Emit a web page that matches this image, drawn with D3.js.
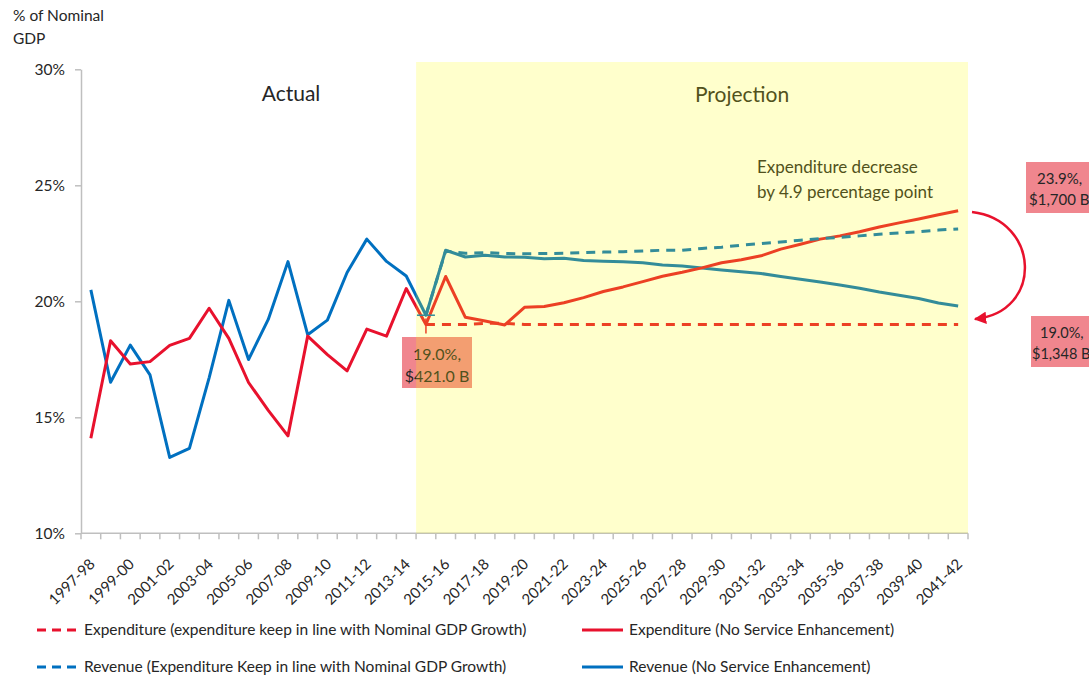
<!DOCTYPE html>
<html>
<head>
<meta charset="utf-8">
<script src="https://cdn.jsdelivr.net/npm/d3@7"></script>
<style>
  body { margin: 0; background: #fff; }
  svg text { font-family: Lato, "Open Sans", sans-serif; fill: #262626; }
</style>
</head>
<body>
<svg id="chart" width="1089" height="692"></svg>
<script>
// Fiscal years on the category axis
const categories = [
  "1997-98","1998-99","1999-00","2000-01","2001-02","2002-03","2003-04","2004-05",
  "2005-06","2006-07","2007-08","2008-09","2009-10","2010-11","2011-12","2012-13",
  "2013-14","2014-15","2015-16","2016-17","2017-18","2018-19","2019-20","2020-21",
  "2021-22","2022-23","2023-24","2024-25","2025-26","2026-27","2027-28","2028-29",
  "2029-30","2030-31","2031-32","2032-33","2033-34","2034-35","2035-36","2036-37",
  "2037-38","2038-39","2039-40","2040-41","2041-42"
];

// % of nominal GDP, actual then projected (no service enhancement)
const expenditureNoEnhancement = [
  14.1, 18.3, 17.3, 17.4, 18.1, 18.4, 19.7, 18.4, 16.5, 15.3, 14.2, 18.5, 17.7, 17.0, 18.8, 18.5, 20.55,
  19.0, 21.07, 19.31, 19.15, 18.98, 19.74, 19.78, 19.94, 20.16, 20.42, 20.62, 20.85, 21.08, 21.25,
  21.44, 21.66, 21.79, 21.96, 22.25, 22.46, 22.68, 22.82, 23.0, 23.2, 23.38, 23.55, 23.73, 23.9
];
const revenueNoEnhancement = [
  20.49, 16.51, 18.11, 16.83, 13.27, 13.66, 16.7, 20.04, 17.49, 19.22, 21.71, 18.56, 19.19, 21.24, 22.68, 21.72, 21.09,
  19.4, 22.2, 21.91, 21.99, 21.91, 21.9, 21.83, 21.86, 21.76, 21.73, 21.7, 21.66, 21.56, 21.52,
  21.44, 21.35, 21.27, 21.2, 21.07, 20.95, 20.83, 20.7, 20.56, 20.4, 20.26, 20.12, 19.93, 19.8
];

// Scenario where expenditure keeps in line with nominal GDP growth (from 2014-15)
const projectionStart = "2014-15";
const expenditureGdpLinked = [
  19.0, 19.0, 19.0, 19.05, 19.05, 19.0, 19.0, 19.0, 19.0, 19.0, 19.0, 19.0, 19.0, 19.0,
  19.0, 19.0, 19.0, 19.0, 19.0, 19.0, 19.0, 19.0, 19.0, 19.0, 19.0, 19.0, 19.0, 19.0
];
const revenueGdpLinked = [
  19.4, 22.17, 22.07, 22.1, 22.06, 22.05, 22.06, 22.07, 22.1, 22.12, 22.14, 22.17, 22.2, 22.2,
  22.28, 22.33, 22.42, 22.49, 22.56, 22.63, 22.7, 22.76, 22.82, 22.89, 22.95, 23.0, 23.07, 23.12
];

const yTicks = [10, 15, 20, 25, 30];
const xLabelStep = 2;

const legendItems = [
  { name: "Expenditure (expenditure keep in line with Nominal GDP Growth)", color: "#e8112d", dashed: true },
  { name: "Expenditure (No Service Enhancement)", color: "#e8112d", dashed: false },
  { name: "Revenue (Expenditure Keep in line with Nominal GDP Growth)", color: "#0070c0", dashed: true },
  { name: "Revenue (No Service Enhancement)", color: "#0070c0", dashed: false }
];

const RED = "#e8112d", BLUE = "#0070c0", AXIS = "#bfbfbf";

const svg = d3.select("#chart");
const plot = { left: 81, right: 968, top: 69.3, bottom: 533.3 };

const x = d3.scaleBand().domain(categories).range([plot.left, plot.right]).paddingInner(0).paddingOuter(0);
const bw = x.bandwidth();
const xc = c => x(c) + bw / 2;
const y = d3.scaleLinear().domain([10, 30]).range([plot.bottom, plot.top]);

const startIdx = categories.indexOf(projectionStart);
const seriesFrom = (vals, offset) => vals.map((v, i) => ({ c: categories[i + offset], v }));

const line = d3.line().x(d => xc(d.c)).y(d => y(d.v));

// Y axis
const yAxis = svg.append("g")
  .attr("transform", `translate(${plot.left},0)`)
  .call(d3.axisLeft(y).tickValues(yTicks).tickFormat(d => d + "%").tickSize(6).tickPadding(10).tickSizeOuter(0));
yAxis.select(".domain").attr("stroke", AXIS).attr("stroke-width", 1.5);
yAxis.selectAll(".tick line").attr("stroke", AXIS).attr("stroke-width", 1.5);
yAxis.selectAll(".tick text").style("font-size", "15.5px").attr("fill", "#262626");

// X axis: base line, boundary ticks, rotated labels
const xAxis = svg.append("g");
xAxis.append("line")
  .attr("x1", plot.left).attr("x2", plot.right)
  .attr("y1", plot.bottom).attr("y2", plot.bottom)
  .attr("stroke", AXIS).attr("stroke-width", 1.5);
xAxis.selectAll("line.tick")
  .data(d3.range(categories.length + 1))
  .join("line")
  .attr("class", "tick")
  .attr("x1", i => plot.left + i * bw).attr("x2", i => plot.left + i * bw)
  .attr("y1", plot.bottom).attr("y2", plot.bottom + 6)
  .attr("stroke", AXIS).attr("stroke-width", 1.5);
xAxis.selectAll("text")
  .data(categories.filter((c, i) => i % xLabelStep === 0))
  .join("text")
  .attr("transform", c => `translate(${xc(c) + 5},565) rotate(-45)`)
  .attr("text-anchor", "end")
  .style("font-size", "15px")
  .text(c => c);

// Axis title
svg.append("text").attr("x", 13).attr("y", 21).style("font-size", "15.5px").text("% of Nominal");
svg.append("text").attr("x", 13).attr("y", 44).style("font-size", "15.5px").text("GDP");

// Data lines
const lines = svg.append("g").attr("fill", "none").attr("stroke-width", 3).attr("stroke-linejoin", "round");
lines.append("path").datum(seriesFrom(revenueNoEnhancement, 0)).attr("d", line).attr("stroke", BLUE);
lines.append("path").datum(seriesFrom(expenditureNoEnhancement, 0)).attr("d", line).attr("stroke", RED);
lines.append("path").datum(seriesFrom(revenueGdpLinked, startIdx)).attr("d", line)
  .attr("stroke", BLUE).attr("stroke-dasharray", "9,7");
lines.append("path").datum(seriesFrom(expenditureGdpLinked, startIdx)).attr("d", line)
  .attr("stroke", RED).attr("stroke-dasharray", "9,7");

// Start-point markers of the GDP-linked scenario
const revStart = { c: projectionStart, v: revenueGdpLinked[0] };
const expStart = { c: projectionStart, v: expenditureGdpLinked[0] };
svg.append("line")
  .attr("x1", xc(revStart.c) - 9).attr("x2", xc(revStart.c) + 9)
  .attr("y1", y(revStart.v)).attr("y2", y(revStart.v))
  .attr("stroke", BLUE).attr("stroke-width", 1.5);
svg.append("line")
  .attr("x1", xc(expStart.c)).attr("x2", xc(expStart.c))
  .attr("y1", y(expStart.v) - 6).attr("y2", y(expStart.v) + 9)
  .attr("stroke", RED).attr("stroke-width", 1.5);

// Value box at the start of the projection
const box1 = svg.append("g");
box1.append("rect").attr("x", 402).attr("y", 337).attr("width", 70).attr("height", 51).attr("fill", "#f0868e");
box1.append("text").attr("x", 437).attr("y", 360).attr("text-anchor", "middle").style("font-size", "16px").text("19.0%,");
box1.append("text").attr("x", 437).attr("y", 382).attr("text-anchor", "middle").style("font-size", "16px").text("$421.0 B");

// Section titles and note
svg.append("text").attr("x", 291).attr("y", 101).attr("text-anchor", "middle").style("font-size", "21px").text("Actual");
svg.append("text").attr("x", 742).attr("y", 102).attr("text-anchor", "middle").style("font-size", "21px").text("Projection");
svg.append("text").attr("x", 757).attr("y", 173).style("font-size", "17px").text("Expenditure decrease");
svg.append("text").attr("x", 757).attr("y", 198).style("font-size", "17px").text("by 4.9 percentage point");

// Projection period shading
svg.append("rect")
  .attr("x", x(projectionStart)).attr("y", 62)
  .attr("width", plot.right - x(projectionStart)).attr("height", plot.bottom - 62)
  .attr("fill", "#ffff00").attr("fill-opacity", 0.2);

// End-of-period value boxes (text kept inside the page edge)
const boxes = [
  { x: 1026, y: 162, l1: "23.9%,", l2: "$1,700 B", t1: 1037, t2: 1029, fs: 15 },
  { x: 1031, y: 316, l1: "19.0%,", l2: "$1,348 B", t1: 1040, t2: 1032, fs: 14.5 }
];
boxes.forEach(b => {
  const g = svg.append("g");
  g.append("rect").attr("x", b.x).attr("y", b.y).attr("width", 70).attr("height", 51).attr("fill", "#f0868e");
  g.append("text").attr("x", b.t1).attr("y", b.y + 22).style("font-size", b.fs + "px").text(b.l1);
  g.append("text").attr("x", b.t2).attr("y", b.y + 43).style("font-size", b.fs + "px").text(b.l2);
});

// Curved arrow from projected to GDP-linked expenditure
const defs = svg.append("defs");
defs.append("marker")
  .attr("id", "arrowHead").attr("viewBox", "0 0 10 10")
  .attr("refX", 9).attr("refY", 5)
  .attr("markerWidth", 5).attr("markerHeight", 5)
  .attr("orient", "auto")
  .append("path").attr("d", "M0,0 L10,5 L0,10 z").attr("fill", RED);
svg.append("path")
  .attr("d", "M972,212 C1040,220 1044,312 975,319")
  .attr("fill", "none").attr("stroke", RED).attr("stroke-width", 2.5)
  .attr("marker-end", "url(#arrowHead)");

// Legend
const legendPos = [[37, 630], [582, 630], [37, 667], [582, 667]];
legendItems.forEach((d, i) => {
  const [lx, ly] = legendPos[i];
  const g = svg.append("g").attr("transform", `translate(${lx},${ly})`);
  g.append("line").attr("x1", 0).attr("x2", 41).attr("y1", 0).attr("y2", 0)
    .attr("stroke", d.color).attr("stroke-width", 3)
    .attr("stroke-dasharray", d.dashed ? "9,6" : null);
  g.append("text").attr("x", 47).attr("y", 5).style("font-size", "15.5px").text(d.name);
});
</script>
</body>
</html>
